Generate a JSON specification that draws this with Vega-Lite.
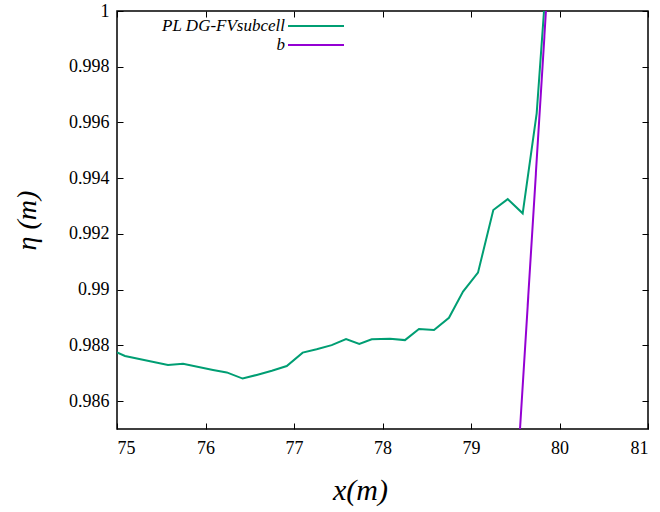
{
  "$schema": "https://vega.github.io/schema/vega-lite/v6.json",
  "width": 531,
  "height": 418,
  "autosize": {"type": "none"},
  "padding": {"left": 117, "top": 11, "right": 12, "bottom": 83},
  "background": "white",
  "config": {
    "view": {"stroke": "black", "strokeWidth": 1.5},
    "font": "Liberation Serif",
    "axis": {
      "grid": false,
      "domain": false,
      "tickColor": "black",
      "tickSize": -6,
      "tickWidth": 1,
      "labelColor": "black",
      "titleColor": "black"
    },
    "legend": {
      "orient": "none",
      "title": null,
      "padding": 0,
      "symbolType": "stroke",
      "symbolSize": 3136,
      "symbolStrokeWidth": 2,
      "labelAlign": "right",
      "labelOffset": -60,
      "labelFont": "Liberation Serif",
      "labelFontStyle": "italic",
      "labelFontSize": 17,
      "labelColor": "black"
    }
  },
  "data": {
    "values": [
      {"x": 75.0, "y": 0.98775, "s": "PL DG-FVsubcell"},
      {"x": 75.09, "y": 0.98762, "s": "PL DG-FVsubcell"},
      {"x": 75.576, "y": 0.9873, "s": "PL DG-FVsubcell"},
      {"x": 75.746, "y": 0.98734, "s": "PL DG-FVsubcell"},
      {"x": 76.085, "y": 0.98712, "s": "PL DG-FVsubcell"},
      {"x": 76.24, "y": 0.98703, "s": "PL DG-FVsubcell"},
      {"x": 76.42, "y": 0.98681, "s": "PL DG-FVsubcell"},
      {"x": 76.579, "y": 0.98694, "s": "PL DG-FVsubcell"},
      {"x": 76.75, "y": 0.98709, "s": "PL DG-FVsubcell"},
      {"x": 76.918, "y": 0.98726, "s": "PL DG-FVsubcell"},
      {"x": 77.098, "y": 0.98774, "s": "PL DG-FVsubcell"},
      {"x": 77.256, "y": 0.98786, "s": "PL DG-FVsubcell"},
      {"x": 77.426, "y": 0.98801, "s": "PL DG-FVsubcell"},
      {"x": 77.588, "y": 0.98823, "s": "PL DG-FVsubcell"},
      {"x": 77.738, "y": 0.98805, "s": "PL DG-FVsubcell"},
      {"x": 77.878, "y": 0.98822, "s": "PL DG-FVsubcell"},
      {"x": 78.085, "y": 0.98824, "s": "PL DG-FVsubcell"},
      {"x": 78.254, "y": 0.98819, "s": "PL DG-FVsubcell"},
      {"x": 78.412, "y": 0.98859, "s": "PL DG-FVsubcell"},
      {"x": 78.582, "y": 0.98855, "s": "PL DG-FVsubcell"},
      {"x": 78.751, "y": 0.98899, "s": "PL DG-FVsubcell"},
      {"x": 78.91, "y": 0.98993, "s": "PL DG-FVsubcell"},
      {"x": 79.079, "y": 0.99061, "s": "PL DG-FVsubcell"},
      {"x": 79.252, "y": 0.99286, "s": "PL DG-FVsubcell"},
      {"x": 79.415, "y": 0.99325, "s": "PL DG-FVsubcell"},
      {"x": 79.584, "y": 0.99274, "s": "PL DG-FVsubcell"},
      {"x": 79.742, "y": 0.99633, "s": "PL DG-FVsubcell"},
      {"x": 79.859, "y": 1.0015, "s": "PL DG-FVsubcell"},
      {"x": 79.554, "y": 0.985, "s": "b"},
      {"x": 79.847, "y": 1.0, "s": "b"}
    ]
  },
  "layer": [
    {
      "transform": [{"filter": "datum.s === 'PL DG-FVsubcell'"}],
      "mark": {"type": "line", "clip": true, "strokeWidth": 2},
      "encoding": {
        "x": {
          "field": "x", "type": "quantitative",
          "scale": {"domain": [75, 81], "nice": false, "zero": false},
          "axis": {"values": [75, 76, 77, 78, 79, 80, 81], "title": "x(m)", "labelFont": "Liberation Serif", "labelFontSize": 18, "labelPadding": 16, "titleFont": "Liberation Serif", "titleFontSize": 30, "titleFontStyle": "italic", "titleFontWeight": "normal", "titlePadding": 18, "titleX": 243, "titleAlign": "center"}
        },
        "y": {
          "field": "y", "type": "quantitative",
          "scale": {"domain": [0.985, 1.0], "nice": false, "zero": false},
          "axis": {"values": [0.986, 0.988, 0.99, 0.992, 0.994, 0.996, 0.998, 1.0], "format": ".3~f", "title": "η (m)", "labelFont": "Liberation Serif", "labelFontSize": 18, "labelPadding": 14, "titleFont": "Liberation Serif", "titleFontSize": 28, "titleFontStyle": "italic", "titleFontWeight": "normal", "titlePadding": 27}
        },
        "color": {
          "field": "s", "type": "nominal",
          "scale": {"domain": ["PL DG-FVsubcell"], "range": ["#009e73"]},
          "legend": {"legendX": 170, "legendY": -14}
        }
      }
    },
    {
      "transform": [{"filter": "datum.s === 'b'"}],
      "mark": {"type": "line", "clip": true, "strokeWidth": 2},
      "encoding": {
        "x": {"field": "x", "type": "quantitative", "axis": null},
        "y": {"field": "y", "type": "quantitative", "axis": null},
        "stroke": {
          "field": "s", "type": "nominal",
          "scale": {"domain": ["b"], "range": ["#9400d3"]},
          "legend": {"legendX": 170, "legendY": 5}
        }
      }
    },
    {
      "mark": {"type": "line", "opacity": 0, "clip": true},
      "encoding": {
        "x": {
          "field": "x", "type": "quantitative",
          "axis": {"orient": "top", "values": [75, 76, 77, 78, 79, 80, 81], "labels": false, "title": null}
        },
        "y": {
          "field": "y", "type": "quantitative",
          "axis": {"orient": "right", "values": [0.986, 0.988, 0.99, 0.992, 0.994, 0.996, 0.998, 1.0], "labels": false, "title": null}
        },
        "detail": {"field": "s", "type": "nominal"}
      }
    }
  ],
  "resolve": {"axis": {"x": "independent", "y": "independent"}, "scale": {"color": "independent", "stroke": "independent"}}
}
